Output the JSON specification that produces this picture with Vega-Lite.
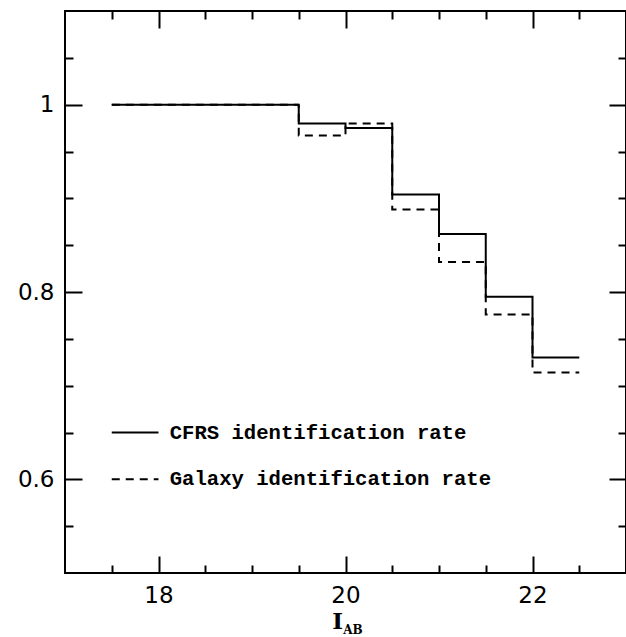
{
  "$schema": "https://vega.github.io/schema/vega-lite/v6.json",
  "width": 561,
  "height": 562,
  "autosize": "none",
  "padding": {"left": 65, "top": 11, "right": 0, "bottom": 64},
  "background": "white",
  "config": {
    "view": {"stroke": "black", "strokeWidth": 2},
    "axis": {
      "domain": false,
      "grid": false,
      "tickColor": "black",
      "tickWidth": 2,
      "labelColor": "black",
      "labelFont": "DejaVu Sans",
      "labelFontSize": 23,
      "titleColor": "black"
    }
  },
  "datasets": {
    "rates": [
      {"series": "CFRS", "mag": 17.5, "rate": 1.0},
      {"series": "CFRS", "mag": 19.5, "rate": 0.98},
      {"series": "CFRS", "mag": 20.0, "rate": 0.975},
      {"series": "CFRS", "mag": 20.5, "rate": 0.904},
      {"series": "CFRS", "mag": 21.0, "rate": 0.862},
      {"series": "CFRS", "mag": 21.5, "rate": 0.795},
      {"series": "CFRS", "mag": 22.0, "rate": 0.73},
      {"series": "CFRS", "mag": 22.5, "rate": 0.73},
      {"series": "Galaxy", "mag": 17.5, "rate": 1.0},
      {"series": "Galaxy", "mag": 19.5, "rate": 0.967},
      {"series": "Galaxy", "mag": 20.0, "rate": 0.98},
      {"series": "Galaxy", "mag": 20.5, "rate": 0.888},
      {"series": "Galaxy", "mag": 21.0, "rate": 0.832},
      {"series": "Galaxy", "mag": 21.5, "rate": 0.776},
      {"series": "Galaxy", "mag": 22.0, "rate": 0.714},
      {"series": "Galaxy", "mag": 22.5, "rate": 0.714}
    ],
    "key": [
      {"series": "CFRS", "mag": 17.5, "rate": 0.65},
      {"series": "CFRS", "mag": 18.0, "rate": 0.65},
      {"series": "Galaxy", "mag": 17.5, "rate": 0.6},
      {"series": "Galaxy", "mag": 18.0, "rate": 0.6}
    ],
    "keyText": [
      {"mag": 18.12, "rate": 0.65, "label": "CFRS identification rate"},
      {"mag": 18.12, "rate": 0.6, "label": "Galaxy identification rate"}
    ],
    "subscript": [
      {"mag": 19.975, "rate": 0.439, "label": "AB"}
    ]
  },
  "resolve": {"axis": {"x": "independent", "y": "independent"}},
  "layer": [
    {
      "data": {"name": "rates"},
      "mark": {"type": "line", "interpolate": "step-after", "color": "black", "strokeWidth": 2},
      "encoding": {
        "x": {
          "field": "mag", "type": "quantitative",
          "scale": {"domain": [17, 23], "nice": false, "zero": false},
          "axis": {
            "orient": "bottom",
            "values": [17.5, 18, 18.5, 19, 19.5, 20, 20.5, 21, 21.5, 22, 22.5],
            "tickSize": {"condition": {"test": "round(datum.value*2) % 4 == 0", "value": -17}, "value": -8},
            "labelExpr": "round(datum.value*2) % 4 == 0 ? format(datum.value, '~g') : ''",
            "labelPadding": 28,
            "title": "I",
            "titleFont": "DejaVu Serif",
            "titleFontSize": 23,
            "titleFontWeight": "bold",
            "titleX": 272,
            "titlePadding": 3
          }
        },
        "y": {
          "field": "rate", "type": "quantitative",
          "scale": {"domain": [0.5, 1.1], "nice": false, "zero": false},
          "axis": {
            "orient": "left",
            "values": [0.55, 0.6, 0.65, 0.7, 0.75, 0.8, 0.85, 0.9, 0.95, 1.0, 1.05],
            "tickSize": {"condition": {"test": "round(datum.value*20) % 4 == 0", "value": -17}, "value": -8},
            "labelExpr": "round(datum.value*20) % 4 == 0 ? format(datum.value, '~g') : ''",
            "labelPadding": 28,
            "title": null
          }
        },
        "strokeDash": {
          "field": "series", "type": "nominal",
          "scale": {"domain": ["CFRS", "Galaxy"], "range": [[1, 0], [8, 6]]},
          "legend": null
        }
      }
    },
    {
      "data": {"name": "key"},
      "mark": {"type": "line", "color": "black", "strokeWidth": 2},
      "encoding": {
        "x": {
          "field": "mag", "type": "quantitative",
          "scale": {"domain": [17, 23], "nice": false, "zero": false},
          "axis": {
            "orient": "top",
            "values": [17.5, 18, 18.5, 19, 19.5, 20, 20.5, 21, 21.5, 22, 22.5],
            "tickSize": {"condition": {"test": "round(datum.value*2) % 4 == 0", "value": -17}, "value": -8},
            "labels": false,
            "title": null
          }
        },
        "y": {
          "field": "rate", "type": "quantitative",
          "scale": {"domain": [0.5, 1.1], "nice": false, "zero": false},
          "axis": {
            "orient": "right",
            "values": [0.55, 0.6, 0.65, 0.7, 0.75, 0.8, 0.85, 0.9, 0.95, 1.0, 1.05],
            "tickSize": {"condition": {"test": "round(datum.value*20) % 4 == 0", "value": -17}, "value": -8},
            "labels": false,
            "title": null
          }
        },
        "strokeDash": {
          "field": "series", "type": "nominal",
          "scale": {"domain": ["CFRS", "Galaxy"], "range": [[1, 0], [10, 7]]},
          "legend": null
        }
      }
    },
    {
      "data": {"name": "keyText"},
      "mark": {"type": "text", "align": "left", "baseline": "middle", "font": "Liberation Mono", "fontWeight": "bold", "fontSize": 20.6, "color": "black"},
      "encoding": {
        "x": {"field": "mag", "type": "quantitative", "axis": null},
        "y": {"field": "rate", "type": "quantitative", "axis": null},
        "text": {"field": "label"}
      }
    },
    {
      "data": {"name": "subscript"},
      "mark": {"type": "text", "align": "left", "baseline": "middle", "font": "DejaVu Serif", "fontWeight": "bold", "fontSize": 12, "color": "black", "clip": false},
      "encoding": {
        "x": {"field": "mag", "type": "quantitative", "axis": null},
        "y": {"field": "rate", "type": "quantitative", "axis": null},
        "text": {"field": "label"}
      }
    }
  ]
}
